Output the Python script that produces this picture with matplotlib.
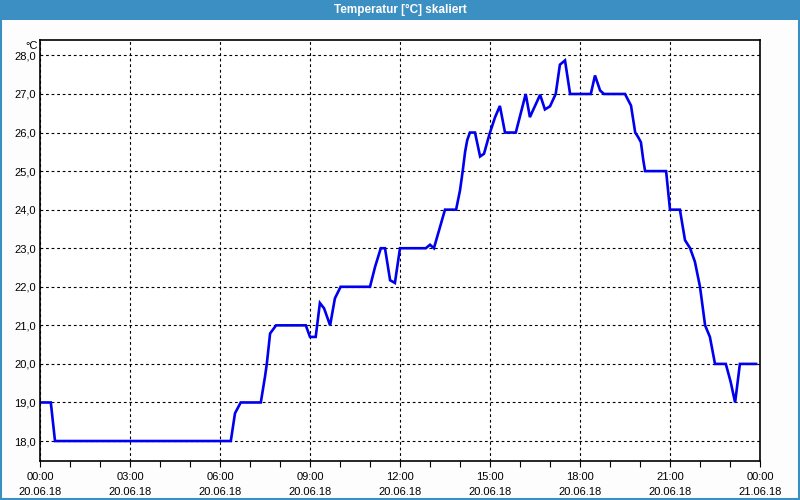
import matplotlib
matplotlib.use("Agg")
import matplotlib.pyplot as plt
from matplotlib.patches import Rectangle
from matplotlib.ticker import MultipleLocator, FixedLocator

plt.rcParams['font.family'] = ['Liberation Sans', 'DejaVu Sans']

title = "Temperatur [°C] skaliert"
unit = "°C"

# time in hours since 20.06.18 00:00
hours = [0, 0.36, 0.5, 6.36, 6.5, 6.69, 7.36, 7.5, 7.56, 7.67, 7.87, 8.86, 9.0, 9.19,
         9.33, 9.47, 9.67, 9.83, 10.02, 11.0, 11.17, 11.36, 11.5, 11.67, 11.83, 12.0,
         12.86, 13.0, 13.13, 13.5, 13.87, 14.0, 14.09, 14.17, 14.24, 14.33, 14.5, 14.67,
         14.8, 14.94, 15.0, 15.17, 15.33, 15.5, 15.86, 16.19, 16.33, 16.67, 16.83, 17.0,
         17.19, 17.33, 17.5, 17.67, 18.36, 18.5, 18.67, 18.8, 19.5, 19.7, 19.78, 19.84,
         19.94, 20.03, 20.11, 20.17, 20.87, 21.0, 21.33, 21.5, 21.67, 21.83, 22.0, 22.17,
         22.33, 22.5, 22.86, 23.02, 23.17, 23.33, 23.87]
temps = [19.0, 19.0, 18.0, 18.0, 18.72, 19.0, 19.0, 19.67, 20.0, 20.79, 21.0, 21.0, 20.7, 20.7,
         21.58, 21.44, 21.0, 21.7, 22.0, 22.0, 22.52, 23.0, 23.0, 22.17, 22.1, 23.0,
         23.0, 23.09, 23.0, 24.0, 24.0, 24.5, 25.0, 25.5, 25.8, 26.0, 26.0, 25.38,
         25.45, 25.84, 26.0, 26.4, 26.69, 26.0, 26.0, 27.0, 26.4, 26.98, 26.6, 26.68,
         27.0, 27.76, 27.87, 27.0, 27.0, 27.48, 27.09, 27.0, 27.0, 26.7, 26.3, 26.0,
         25.88, 25.75, 25.28, 25.0, 25.0, 24.0, 24.0, 23.21, 23.0, 22.65, 22.0, 21.0,
         20.7, 20.0, 20.0, 19.54, 19.0, 20.0, 20.0]

xtick_pos = [0, 3, 6, 9, 12, 15, 18, 21, 24]
xtick_labels = ["00:00\n20.06.18", "03:00\n20.06.18", "06:00\n20.06.18", "09:00\n20.06.18",
                "12:00\n20.06.18", "15:00\n20.06.18", "18:00\n20.06.18", "21:00\n20.06.18",
                "00:00\n21.06.18"]
ytick_pos = [18, 19, 20, 21, 22, 23, 24, 25, 26, 27, 28]
ytick_labels = [f"{v:.1f}".replace(".", ",") for v in ytick_pos]

W, H = 800, 500
fig = plt.figure(figsize=(8, 5), dpi=100, facecolor='#fcfdfc')
blue_bar = '#3c8fc3'
fig.patches.append(Rectangle((0, 1 - 20 / H), 1, 20 / H, transform=fig.transFigure,
                             facecolor=blue_bar, edgecolor='none', zorder=0))
fig.patches.append(Rectangle((1 / W, 1 / H), 1 - 2 / W, 1 - 2 / H, transform=fig.transFigure,
                             facecolor='none', edgecolor=blue_bar, linewidth=1.5, zorder=1))
fig.text(0.5, 1 - 10 / H, title, color='white', fontsize=8.5, fontweight='bold',
         ha='center', va='center')

ax = fig.add_axes([40 / W, (H - 460.7) / H, 720 / W, (460.7 - 40) / H])
ax.set_facecolor('white')
ax.plot(hours, temps, color='#0000ee', linewidth=1.9, solid_joinstyle='miter')

ax.set_xlim(0, 24)
ax.set_ylim(17.49, 28.4)
ax.set_xticks(xtick_pos)
ax.set_xticklabels(xtick_labels, fontsize=8, linespacing=1.6)
ax.xaxis.set_minor_locator(MultipleLocator(1))
ax.set_yticks(ytick_pos)
ax.set_yticklabels(ytick_labels, fontsize=8)
ax.tick_params(axis='x', which='both', direction='out', length=4, width=0.8, pad=4, colors='black')
ax.tick_params(axis='y', length=0, pad=3)
ax.grid(True, which='major', color='black', linestyle=(0, (2.5, 2.5)), linewidth=0.8)
for s in ax.spines.values():
    s.set_linewidth(1.2)
    s.set_color('black')

fig.text(32 / W, (H - 46) / H, unit, fontsize=8, ha='center', va='center')

fig.savefig("out.png", dpi=100, facecolor=fig.get_facecolor())
